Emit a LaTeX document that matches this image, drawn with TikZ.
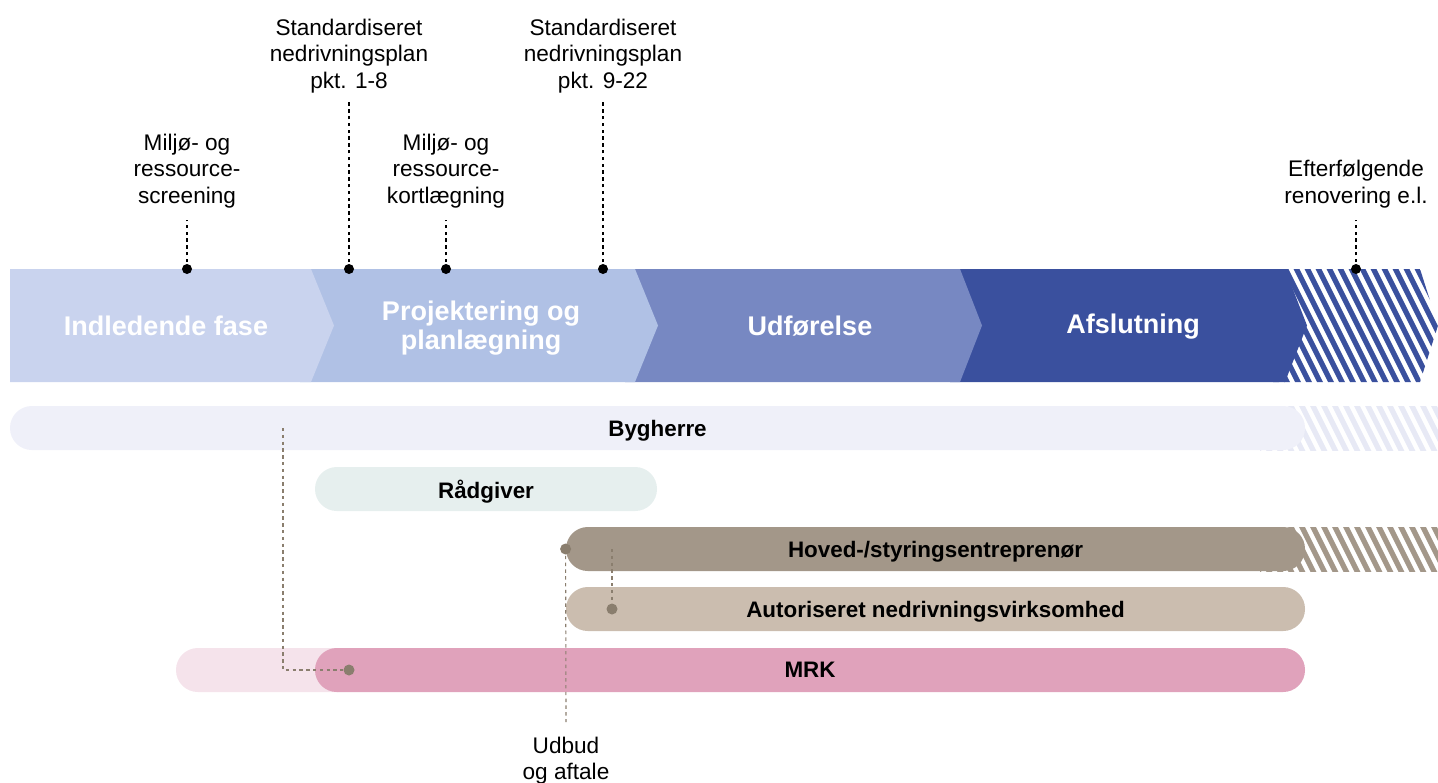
\documentclass[tikz,border=0pt]{standalone}
\usepackage{fontspec}
\setmainfont{Liberation Sans}
\usetikzlibrary{positioning}

\definecolor{faseA}{HTML}{C9D3EE}
\definecolor{faseB}{HTML}{B0C1E5}
\definecolor{faseC}{HTML}{7788C2}
\definecolor{faseD}{HTML}{3A509E}
\definecolor{bygC}{HTML}{EFF0F9}
\definecolor{bygS}{HTML}{E7E9F5}
\definecolor{raadC}{HTML}{E6EFEE}
\definecolor{hovedC}{HTML}{A39789}
\definecolor{autorC}{HTML}{CBBDAF}
\definecolor{mrkC}{HTML}{E0A2BB}
\definecolor{mrkL}{HTML}{F5E3EB}
\definecolor{dotC}{HTML}{8A7E6E}

\tikzset{
  fase/.style={font=\bfseries\fontsize{13.5}{14.5}\selectfont, text=white, align=center, inner sep=0pt},
  note/.style={font=\fontsize{11.3}{13.2}\selectfont, align=center, inner sep=0pt},
  bar/.style={rounded corners=10.9pt, minimum height=22pt, inner sep=0pt, font=\bfseries\fontsize{11.2}{12}\selectfont},
  pin/.style={circle, fill=black, inner sep=0pt, minimum size=5pt},
  bardot/.style={circle, fill=dotC, inner sep=0pt, minimum size=5.5pt},
  leader/.style={dash pattern={on 1.7pt off 1.7pt}, line width=0.55pt},
}

\begin{document}
\begin{tikzpicture}[x=0.5pt,y=0.5pt,yscale=-1]
\useasboundingbox (0,0) rectangle (1438,782);

%Shape: Hatched end of the phase band
\begin{scope}
\clip (1270,269) -- (1420,269) -- (1438,325.5) -- (1420,382) -- (1270,382) -- cycle;
\foreach \s in {1150,1161,...,1450}
  \draw[faseD, line width=2.6pt] (\s,262) -- ++(64,128);
\end{scope}
%Shape: Chevron phase 4
\fill[faseD] (950,269) -- (1285,269) -- (1307,325.5) -- (1285,382) -- (950,382) -- cycle;
%Shape: Chevron phase 3
\fill[faseC] (625,269) -- (960,269) -- (982,325.5) -- (960,382) -- (625,382) -- cycle;
%Shape: Chevron phase 2
\fill[faseB] (300,269) -- (635,269) -- (658,325.5) -- (635,382) -- (300,382) -- cycle;
%Shape: Chevron phase 1
\fill[faseA] (10,269) -- (311,269) -- (334,325.5) -- (311,382) -- (10,382) -- cycle;

% Phase labels
\node[fase] (fa1) at (166,326) {Indledende fase};
\node[fase] (fa2) at (481,328) {Projektering og\\planlægning};
\node[fase] (fa3) at (810,326) {Udførelse};
\node[fase] (fa4) at (1133,327) {Afslutning};

% Milestones above the band
\node[pin] (p1) at (187,269) {};
\node[pin] (p2) at (349,269) {};
\node[pin] (p3) at (446,269) {};
\node[pin] (p4) at (603,269) {};
\node[pin] (p5) at (1356,269) {};

\node[note, anchor=south, outer ysep=6pt] (t1) at (187,220) {Miljø- og\\ressource-\\screening};
\node[note, anchor=south, outer ysep=3.5pt] (t2) at (349,100) {Standardiseret\\nedrivningsplan\\pkt. 1-8};
\node[note, anchor=south, outer ysep=6pt] (t3) at (446,220) {Miljø- og\\ressource-\\kortlægning};
\node[note, anchor=south, outer ysep=3.5pt] (t4) at (603,100) {Standardiseret\\nedrivningsplan\\pkt. 9-22};
\node[note, anchor=south, outer ysep=6pt] (t5) at (1356,220) {Efterfølgende\\renovering e.l.};

\foreach \i in {1,...,5}
  \draw[leader] (p\i.center) -- (t\i.south);

%Shape: Hatched ends of the bars
\begin{scope}
\clip (1260,406) rectangle (1438,450);
\foreach \s in {1200,1211,...,1450}
  \draw[bygS, line width=2.6pt] (\s,400) -- ++(28,56);
\end{scope}
\begin{scope}
\clip (1260,527) rectangle (1438,571);
\foreach \s in {1200,1211,...,1450}
  \draw[hovedC, line width=2.6pt] (\s,521) -- ++(28,56);
\end{scope}

% Bars
\node[bar, fill=bygC, minimum width=647.5pt, text depth=0pt] (byg) at (657.5,428) {Bygherre};
\node[bar, fill=raadC, minimum width=171pt, text depth=0pt] (raad) at (486,489) {Rådgiver};
\node[bar, fill=hovedC, minimum width=369.5pt, text depth=0pt] (hoved) at (935.5,549) {Hoved-/styringsentreprenør};
\node[bar, fill=autorC, minimum width=369.5pt, text depth=0pt] (autor) at (935.5,609) {Autoriseret nedrivningsvirksomhed};
\node[bar, fill=mrkL, minimum width=92pt] (mrkpre) at (268,670) {};
\node[bar, fill=mrkC, minimum width=495pt] (mrk) at (810,670) {MRK};

% Leaders between the bars
\coordinate (c1) at (283,428);
\node[bardot] (d1) at (349,670) {};
\draw[dotC, leader] (c1) |- (d1);

\node[bardot] (d2) at (hoved.west) {};
\node[note, anchor=north, outer ysep=7.5pt] (udbud) at (566,722) {Udbud\\og aftale};
\draw[dotC, leader] (d2.center) -- (udbud.north);

\coordinate (c3) at (612,549);
\node[bardot] (d3) at (612,609) {};
\draw[dotC, leader] (c3) -- (d3);

\end{tikzpicture}
\end{document}
